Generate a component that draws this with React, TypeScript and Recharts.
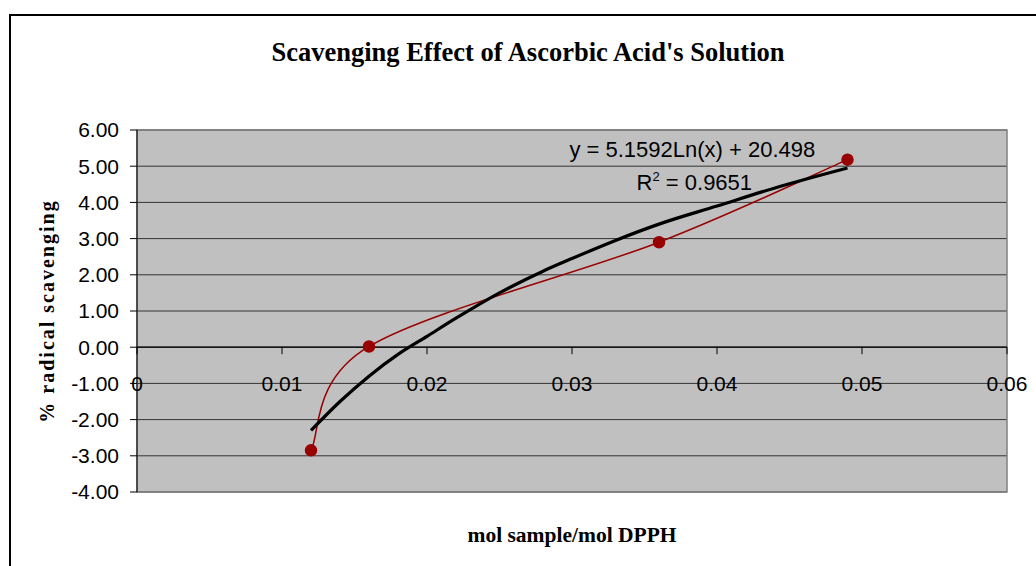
import React from 'react';
import {
    ComposedChart, Line, XAxis, YAxis, CartesianGrid, ReferenceLine, ReferenceArea, ReferenceDot
} from 'recharts';

// measured points (mol sample/mol DPPH vs % radical scavenging)
const SAMPLE_X = [0.012, 0.016, 0.036, 0.049];
const SAMPLE_Y = [-2.85, 0.02, 2.9, 5.18];

// log trendline
const TREND_X = [0.012, 0.014, 0.016, 0.018, 0.02, 0.022, 0.025, 0.028, 0.03, 0.033, 0.036, 0.04, 0.044, 0.049];
const TREND_Y = [-2.3, -1.5, -0.8, -0.2, 0.3, 0.8, 1.5, 2.1, 2.45, 2.95, 3.4, 3.9, 4.4, 4.95];

const X_TICKS = [0, 0.01, 0.02, 0.03, 0.04, 0.05, 0.06];
const Y_TICKS = [-4, -3, -2, -1, 0, 1, 2, 3, 4, 5, 6];

const TITLE = "Scavenging Effect of Ascorbic Acid's Solution";
const EQUATION = 'y = 5.1592Ln(x) + 20.498';
const R_SQUARED = '0.9651';

const samples = SAMPLE_X.map((x, i) => ({ x, y: SAMPLE_Y[i] }));
const trend = TREND_X.map((x, i) => ({ x, t: TREND_Y[i] }));

const W = 1036;
const H = 566;
const PLOT_TOP = 130;
const PLOT_BOTTOM = 492;
const Y_MIN = -4;
const Y_MAX = 6;
const ZERO_Y = PLOT_TOP + (PLOT_BOTTOM - PLOT_TOP) * (Y_MAX / (Y_MAX - Y_MIN));

const sans = '"Liberation Sans", Arial, sans-serif';
const serif = '"Liberation Serif", "Times New Roman", serif';

// Excel-style "smoothed line": Catmull-Rom segments drawn as cubic beziers
const excelSmooth = (context: any) => {
    let pts: number[][] = [];
    return {
        areaStart() {},
        areaEnd() {},
        lineStart() { pts = []; },
        point(x: number, y: number) { pts.push([+x, +y]); },
        lineEnd() {
            if (!pts.length) return;
            context.moveTo(pts[0][0], pts[0][1]);
            for (let i = 0; i < pts.length - 1; i++) {
                const p0 = pts[Math.max(i - 1, 0)];
                const p1 = pts[i];
                const p2 = pts[i + 1];
                const p3 = pts[Math.min(i + 2, pts.length - 1)];
                context.bezierCurveTo(
                    p1[0] + (p2[0] - p0[0]) / 6, p1[1] + (p2[1] - p0[1]) / 6,
                    p2[0] - (p3[0] - p1[0]) / 6, p2[1] - (p3[1] - p1[1]) / 6,
                    p2[0], p2[1]
                );
            }
        },
    };
};

// x axis sits on y = 0 in the original, labels hang below it
const XTick = (props: any) => {
    const { x, payload } = props;
    return (
        <g>
            <line x1={x} y1={ZERO_Y} x2={x} y2={ZERO_Y + 7} stroke="#000" />
            <text x={x} y={ZERO_Y + 44} textAnchor="middle" fontFamily={sans} fontSize={21} fill="#000">
                {String(payload.value)}
            </text>
        </g>
    );
};

const EquationText = (props: any) => {
    const { cx, cy } = props;
    return (
        <g fontFamily={sans} fontSize={22} fill="#000">
            <text x={cx} y={cy} textAnchor="middle">{EQUATION}</text>
            <text x={cx + 2} y={cy + 33} textAnchor="middle">
                R<tspan fontSize={13} dy={-9}>2</tspan><tspan dy={9}>{' = ' + R_SQUARED}</tspan>
            </text>
        </g>
    );
};

const App = () => {
    return (
        <div style={{ position: 'absolute', left: 0, top: 0, width: W, height: H, overflow: 'hidden', background: '#fff' }}>
            <div style={{ position: 'absolute', left: 9, top: 14, width: 1100, height: 700, borderTop: '2px solid #000', borderLeft: '2px solid #000' }} />
            <div style={{ position: 'absolute', left: 0, width: 1056, top: 37, textAlign: 'center', fontFamily: serif, fontWeight: 'bold', fontSize: 26.5, color: '#000' }}>
                {TITLE}
            </div>
            <div style={{ position: 'absolute', left: 0, top: 0 }}>
                <ComposedChart width={W} height={H} margin={{ top: PLOT_TOP, right: 29, bottom: H - PLOT_BOTTOM - 30, left: 37 }}>
                    <CartesianGrid vertical={false} stroke="#333" fill="#c0c0c0" fillOpacity={1} />
                    <ReferenceArea x1={0} x2={0.06} y1={Y_MIN} y2={Y_MAX} fill="none" stroke="#808080" strokeWidth={1.5} ifOverflow="visible" />
                    <XAxis
                        type="number"
                        dataKey="x"
                        domain={[0, 0.06]}
                        ticks={X_TICKS}
                        axisLine={false}
                        tickLine={false}
                        tick={<XTick />}
                        height={30}
                        label={{ value: 'mol sample/mol DPPH', position: 'bottom', offset: 5, fontFamily: serif, fontWeight: 'bold', fontSize: 21.5, fill: '#000' }}
                    />
                    <YAxis
                        type="number"
                        domain={[Y_MIN, Y_MAX]}
                        ticks={Y_TICKS}
                        width={100}
                        axisLine={{ stroke: '#000' }}
                        tickLine={{ stroke: '#000' }}
                        tickSize={7}
                        tickMargin={11}
                        tick={{ fontFamily: sans, fontSize: 21, fill: '#000' }}
                        tickFormatter={(v: number) => v.toFixed(2)}
                        label={{ value: '% radical scavenging', angle: -90, position: 'center', dx: -40, fontFamily: serif, fontWeight: 'bold', fontSize: 20, letterSpacing: 2, fill: '#000' }}
                    />
                    <ReferenceLine y={0} stroke="#000" strokeWidth={1.2} />
                    <Line
                        data={samples}
                        dataKey="y"
                        type={excelSmooth as any}
                        stroke="#990000"
                        strokeWidth={1.5}
                        dot={{ r: 5.5, fill: '#990000', stroke: '#990000' }}
                        isAnimationActive={false}
                    />
                    <Line
                        data={trend}
                        dataKey="t"
                        type="monotone"
                        stroke="#000"
                        strokeWidth={3.2}
                        dot={false}
                        isAnimationActive={false}
                    />
                    <ReferenceDot x={0.0383} y={5.26} r={0} shape={<EquationText />} ifOverflow="visible" />
                </ComposedChart>
            </div>
        </div>
    );
};

export default App;
